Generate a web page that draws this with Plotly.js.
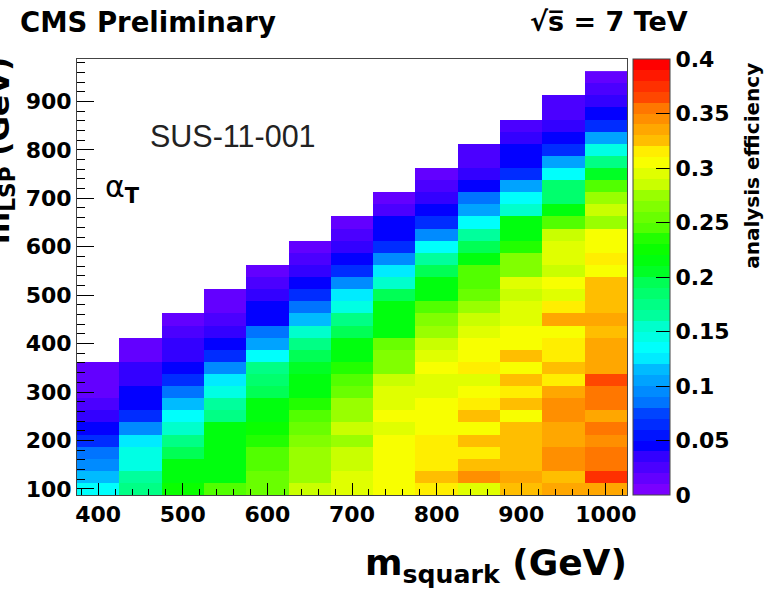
<!DOCTYPE html>
<html>
<head>
<meta charset="utf-8">
<script src="https://cdn.plot.ly/plotly-3.0.1.min.js"></script>
<style>
html,body{margin:0;padding:0;background:#ffffff;}
#chart{width:775px;height:589px;}
</style>
</head>
<body>
<div id="chart"></div>
<script>
// squark mass bin centres (GeV)
const msquark = [400, 450, 500, 550, 600, 650, 700, 750, 800, 850, 900, 950, 1000];
// LSP mass bins start at 100 GeV, 25 GeV wide (values listed bottom -> top)
const mLSPfirst = 100;
const mLSPstep = 25;

// analysis efficiency per squark-mass column, from mLSP = 100 upward
const eff400  = [0.135,0.115,0.095,0.085,0.065,0.045,0.035,0.028,0.015,0.015,0.012];
const eff450  = [0.175,0.165,0.145,0.145,0.125,0.095,0.065,0.047,0.043,0.038,0.033,0.018,0.012];
const eff500  = [0.225,0.218,0.215,0.198,0.172,0.155,0.135,0.115,0.085,0.065,0.047,0.038,0.033,0.025,0.018];
const eff550  = [0.245,0.218,0.218,0.218,0.218,0.215,0.172,0.165,0.145,0.125,0.095,0.065,0.042,0.036,0.027,0.018,0.012];
const eff600  = [0.255,0.255,0.248,0.245,0.238,0.228,0.218,0.215,0.192,0.185,0.175,0.135,0.105,0.085,0.047,0.041,0.036,0.027,0.015];
const eff650  = [0.282,0.272,0.275,0.272,0.265,0.255,0.245,0.232,0.218,0.212,0.205,0.195,0.175,0.155,0.115,0.085,0.065,0.045,0.036,0.025,0.015];
const eff700  = [0.292,0.292,0.285,0.282,0.272,0.282,0.272,0.272,0.255,0.245,0.235,0.218,0.218,0.192,0.172,0.145,0.125,0.095,0.065,0.045,0.038,0.027,0.015];
const eff750  = [0.302,0.305,0.302,0.305,0.305,0.295,0.302,0.295,0.292,0.285,0.262,0.262,0.255,0.215,0.218,0.218,0.192,0.155,0.125,0.095,0.065,0.047,0.043,0.027,0.015];
const eff800  = [0.315,0.325,0.318,0.315,0.312,0.302,0.305,0.305,0.295,0.292,0.302,0.292,0.285,0.272,0.262,0.242,0.218,0.218,0.192,0.162,0.135,0.095,0.065,0.045,0.038,0.027,0.015];
const eff850  = [0.292,0.345,0.325,0.315,0.325,0.305,0.325,0.315,0.305,0.292,0.315,0.305,0.305,0.292,0.282,0.272,0.255,0.248,0.242,0.218,0.192,0.165,0.135,0.105,0.085,0.045,0.038,0.025,0.025];
const eff900  = [0.325,0.332,0.325,0.325,0.325,0.325,0.305,0.325,0.315,0.325,0.305,0.325,0.305,0.305,0.292,0.292,0.285,0.295,0.262,0.265,0.238,0.218,0.218,0.152,0.135,0.105,0.065,0.047,0.043,0.038,0.027];
const eff950  = [0.335,0.325,0.342,0.345,0.332,0.335,0.345,0.345,0.335,0.315,0.325,0.315,0.315,0.305,0.335,0.315,0.295,0.305,0.285,0.295,0.295,0.285,0.242,0.218,0.185,0.185,0.135,0.105,0.065,0.047,0.038,0.027,0.025];
const eff1000 = [0.335,0.375,0.355,0.352,0.345,0.355,0.335,0.355,0.355,0.365,0.335,0.335,0.335,0.325,0.335,0.325,0.325,0.325,0.305,0.315,0.302,0.305,0.275,0.285,0.272,0.245,0.205,0.172,0.142,0.105,0.065,0.045,0.038,0.025,0.012];

const colorbarTicks = [0, 0.05, 0.1, 0.15, 0.2, 0.25, 0.3, 0.35, 0.4];
const colorbarLabels = ["0", "0.05", "0.1", "0.15", "0.2", "0.25", "0.3", "0.35", "0.4"];
const xTicks = [400, 500, 600, 700, 800, 900, 1000];
const yTicks = [100, 200, 300, 400, 500, 600, 700, 800, 900];

// build the z matrix (rows = mLSP bins, columns = msquark bins)
const columns = [eff400, eff450, eff500, eff550, eff600, eff650, eff700, eff750, eff800, eff850, eff900, eff950, eff1000];
const nRows = Math.max.apply(null, columns.map(c => c.length));
const z = [];
for (let r = 0; r < nRows; r++) {
  const row = [];
  for (let c = 0; c < columns.length; c++) {
    row.push(r < columns[c].length ? columns[c][r] : null);
  }
  z.push(row);
}

// ROOT "pretty" rainbow palette, 40 contour bands
function rootBandColor(k, nBands) {
  const idx = Math.floor((k + 0.99) * 50 / nBands);
  const hue = 280 - (idx + 1) * 5.6;
  return 'hsl(' + hue.toFixed(1) + ',100%,50%)';
}
const nBands = 40;
const colorscale = [];
for (let k = 0; k < nBands; k++) {
  const col = rootBandColor(k, nBands);
  colorscale.push([k / nBands, col]);
  colorscale.push([(k + 1) / nBands, col]);
}

const boldFont = {family: 'DejaVu Sans', size: 22, color: '#000', weight: 'bold'};

const trace = {
  type: 'heatmap',
  x: msquark,
  y0: mLSPfirst,
  dy: mLSPstep,
  z: z,
  zmin: 0,
  zmax: 0.4,
  colorscale: colorscale,
  zsmooth: false,
  hoverongaps: false,
  colorbar: {
    x: 1.0109, xanchor: 'left', xpad: 0,
    y: 0.5, yanchor: 'middle', ypad: 0,
    len: 1, lenmode: 'fraction',
    thickness: 37, thicknessmode: 'pixels',
    outlinewidth: 1, outlinecolor: '#444',
    ticks: 'inside', ticklen: 14, tickwidth: 1, tickcolor: '#000',
    tickvals: colorbarTicks, ticktext: colorbarLabels,
    tickfont: boldFont
  }
};

const layout = {
  width: 775, height: 589,
  margin: {l: 77, r: 148, t: 59, b: 94, pad: 0},
  paper_bgcolor: '#ffffff',
  plot_bgcolor: '#ffffff',
  font: {family: 'DejaVu Sans', color: '#000'},
  showlegend: false,
  title: {
    text: 'CMS Preliminary',
    xref: 'container', yref: 'container',
    x: 20 / 775, xanchor: 'left',
    y: 1 - 22 / 589, yanchor: 'middle',
    font: {family: 'DejaVu Sans', size: 27.5, color: '#000', weight: 'bold'}
  },
  xaxis: {
    range: [375, 1025],
    tickvals: xTicks,
    ticks: 'inside', ticklen: 12, tickwidth: 1, tickcolor: '#000',
    minor: {dtick: 20, tick0: 0, ticks: 'inside', ticklen: 6, tickwidth: 1, tickcolor: '#000', showgrid: false},
    showline: true, mirror: true, linecolor: '#444', linewidth: 1,
    showgrid: false, zeroline: false,
    tickfont: boldFont
  },
  yaxis: {
    range: [87.5, 987.5],
    tickvals: yTicks,
    ticks: 'inside', ticklen: 17, tickwidth: 1, tickcolor: '#000',
    minor: {dtick: 20, tick0: 0, ticks: 'inside', ticklen: 8, tickwidth: 1, tickcolor: '#000', showgrid: false},
    showline: true, mirror: true, linecolor: '#444', linewidth: 1,
    showgrid: false, zeroline: false,
    tickfont: boldFont
  },
  annotations: [
    {text: '\u221As\u0305 = 7 TeV', xref: 'paper', yref: 'paper', x: 0.82, y: 1.0849,
     xanchor: 'left', yanchor: 'middle', showarrow: false,
     font: {family: 'DejaVu Sans', size: 27, color: '#000', weight: 'bold'}},
    {text: 'SUS-11-001', xref: 'paper', yref: 'paper', x: 0.129, y: 0.8234,
     xanchor: 'left', yanchor: 'middle', showarrow: false,
     font: {family: 'Liberation Sans', size: 30.5, color: '#222'}},
    {text: '\u03B1<sub><b>T</b></sub>', xref: 'paper', yref: 'paper', x: 0.047, y: 0.704,
     xanchor: 'left', yanchor: 'middle', showarrow: false,
     font: {family: 'DejaVu Sans', size: 30, color: '#000'}},
    {text: 'm<sub>squark</sub> (GeV)', xref: 'paper', yref: 'paper', x: 1.0036, y: -0.1030,
     xanchor: 'right', yanchor: 'top', showarrow: false,
     font: {family: 'DejaVu Sans', size: 36, color: '#000', weight: 'bold'}},
    {text: 'm<sub>LSP</sub> (GeV)', xref: 'paper', yref: 'paper', x: -0.14, y: 0.791,
     xanchor: 'center', yanchor: 'middle', textangle: -90, showarrow: false,
     font: {family: 'DejaVu Sans', size: 31, color: '#000', weight: 'bold'}},
    {text: 'analysis efficiency', xref: 'paper', yref: 'paper', x: 1.227, y: 0.7546,
     xanchor: 'center', yanchor: 'middle', textangle: -90, showarrow: false,
     font: {family: 'DejaVu Sans', size: 20, color: '#000', weight: 'bold'}}
  ]
};

Plotly.newPlot('chart', [trace], layout, {staticPlot: true, displayModeBar: false});
</script>
</body>
</html>
